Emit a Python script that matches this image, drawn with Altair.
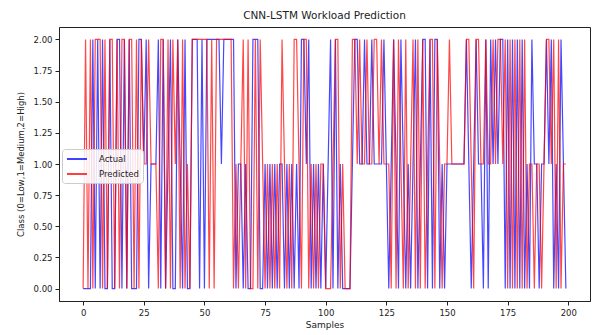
import altair as alt
import pandas as pd

# Actual and predicted classes (samples 0..199)
actual = [
    0,0,0,0,2,0,2,0,2,0, 0,2,0,0,2,2,0,2,0,2, 0,0,0,2,2,1,2,0,1,1, 1,2,
    0,2,0,1,2,0,0,2,1,0, 2,0,0,2,2,2,0,2,0,2, 2,2,2,2,2,1,2,2,2,2, 2,0,1,
    1,0,1,0,0,2,2,2,0,0, 1,0,1,0,1,0,1,1,0,1, 0,1,0,1,0,2,2,1,2,0, 1,0,1,0,1,0,
    1,2,0,2,0,1,0,0,0,0, 1,2,2,1,1,2,1,1,2,1, 1,1,1,2,1,0,1,2,1,0, 2,1,0,
    1,0,1,2,0,1,2,2,0,2, 0,2,2,0,1,0,1,1,1,1, 1,1,1,1,2,1,0,1,2,1, 1,0,2,0,
    2,1,2,1,2,2,0,2,0,2, 0,2,0,2,0,1,0,2,1,1, 0,1,1,2,1,2,0,1,0,2, 1,0,
]
predicted = [
    0,2,0,2,0,2,2,2,0,2, 0,2,2,0,2,0,2,2,0,2, 2,0,2,0,2,1,1,2,1,1, 1,0,
    2,2,0,2,0,2,1,2,0,2, 0,1,0,2,2,2,2,2,2,2, 0,2,0,2,2,2,2,2,2,2, 0,1,0,
    1,2,0,2,0,0,2,0,2,1, 0,1,0,1,0,1,0,2,1,0, 1,0,2,2,1,0,2,2,0,1, 0,1,0,1,1,0,
    0,0,1,2,2,0,1,0,0,0, 2,2,1,2,1,1,2,1,1,2, 2,1,2,1,1,1,0,2,0,2, 1,0,2,
    0,1,2,0,2,0,2,0,1,2, 2,0,2,1,0,1,1,2,1,1, 1,1,1,1,2,2,1,0,2,2, 1,1,2,1,
    1,2,1,2,2,1,2,0,2,0, 2,0,2,0,2,0,1,1,0,1, 1,0,1,2,2,1,2,0,2,0, 1,1,
]
series_names = ["Actual", "Predicted"]
series_colors = ["blue", "red"]
x_ticks = [0, 25, 50, 75, 100, 125, 150, 175, 200]
y_ticks = [0.0, 0.25, 0.5, 0.75, 1.0, 1.25, 1.5, 1.75, 2.0]

rows = []
for i, v in enumerate(actual):
    rows.append({"sample": i, "value": v, "series": "Actual"})
for i, v in enumerate(predicted):
    rows.append({"sample": i, "value": v, "series": "Predicted"})
df = pd.DataFrame(rows)

FONT = "DejaVu Sans"

x_enc = alt.X("sample:Q",
              scale=alt.Scale(domain=[-9.95, 208.95], nice=False, zero=False),
              axis=alt.Axis(values=x_ticks, title="Samples", format="d", grid=False,
                            tickSize=4, labelFontSize=8.5, titleFontSize=9,
                            titlePadding=4, labelPadding=3))
y_enc = alt.Y("value:Q",
              scale=alt.Scale(domain=[-0.1, 2.1], nice=False, zero=False),
              axis=alt.Axis(values=y_ticks, format=".2f", grid=False,
                            title="Class (0=Low,1=Medium,2=High)",
                            tickSize=4, labelFontSize=8.5, titleFontSize=8.5,
                            titlePadding=8, labelPadding=3))
color_enc = alt.Color("series:N",
                      scale=alt.Scale(domain=series_names, range=series_colors),
                      legend=alt.Legend(orient="none", legendX=3, legendY=122, title=None,
                                        symbolType="M-1,0H3", symbolSize=100,
                                        symbolStrokeWidth=1.5, symbolOpacity=1,
                                        labelOffset=21, labelFontSize=8.5, rowPadding=4,
                                        padding=4, fillColor="rgba(255,255,255,0.85)",
                                        strokeColor="#cccccc", cornerRadius=3))

base = alt.Chart(df).encode(x=x_enc, y=y_enc, color=color_enc)
line_actual = base.transform_filter(alt.datum.series == "Actual").mark_line(
    strokeWidth=1.2, opacity=0.72)
line_pred = base.transform_filter(alt.datum.series == "Predicted").mark_line(
    strokeWidth=1.2, opacity=0.72)

chart = alt.layer(line_actual, line_pred).properties(
    width=531, height=274,
    title=alt.TitleParams("CNN-LSTM Workload Prediction", fontSize=10.5,
                          fontWeight="normal", font=FONT, color="#222", offset=6),
    autosize=alt.AutoSizeParams(type="none"),
    padding={"left": 51, "top": 19, "right": 4, "bottom": 30},
).configure(font=FONT).configure_axis(
    domainColor="#222", tickColor="#222", labelColor="#222", titleColor="#222",
    labelFont=FONT, titleFont=FONT, titleFontWeight="normal"
).configure_legend(labelFont=FONT, labelColor="#222").configure_view(
    stroke="#222", strokeWidth=1
)

chart.save("out.html", embed_options={"renderer": "svg", "actions": False})
